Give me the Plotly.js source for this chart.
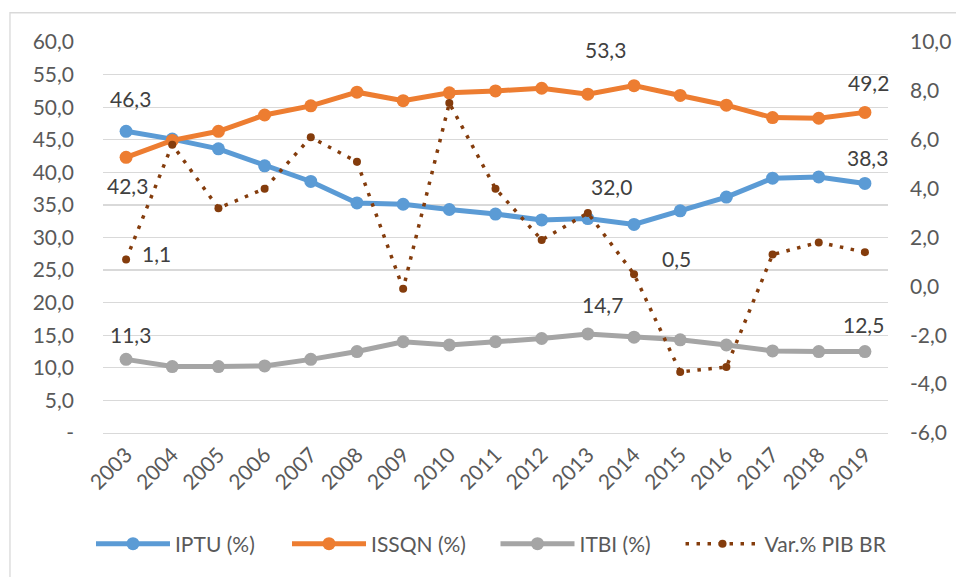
<!DOCTYPE html>
<html>
<head>
<meta charset="utf-8">
<script src="https://cdn.plot.ly/plotly-3.0.1.min.js"></script>
<style>
html,body{margin:0;padding:0;background:#fff;}
#chart{width:956px;height:577px;}
</style>
</head>
<body>
<div id="chart"></div>
<script>
var years = ['2003','2004','2005','2006','2007','2008','2009','2010','2011','2012','2013','2014','2015','2016','2017','2018','2019'];
var iptu  = [46.3,45.1,43.6,41.0,38.6,35.3,35.1,34.3,33.6,32.7,32.9,32.0,34.1,36.2,39.1,39.3,38.3];
var issqn = [42.3,44.9,46.3,48.8,50.2,52.3,51.0,52.2,52.5,52.9,52.0,53.3,51.8,50.3,48.4,48.3,49.2];
var itbi  = [11.3,10.2,10.2,10.3,11.3,12.5,14.0,13.5,14.0,14.5,15.2,14.7,14.3,13.5,12.6,12.5,12.5];
var pib   = [1.1,5.8,3.2,4.0,6.1,5.1,-0.1,7.5,4.0,1.9,3.0,0.5,-3.5,-3.3,1.3,1.8,1.4];

var leftTickVals  = [0,5,10,15,20,25,30,35,40,45,50,55,60];
var leftTickText  = ['-','5,0','10,0','15,0','20,0','25,0','30,0','35,0','40,0','45,0','50,0','55,0','60,0'];
var rightTickVals = [-6,-4,-2,0,2,4,6,8,10];
var rightTickText = ['-6,0','-4,0','-2,0','0,0','2,0','4,0','6,0','8,0','10,0'];

var seriesNames = ['IPTU (%)','ISSQN (%)','ITBI (%)','Var.% PIB BR'];

var FONT = 'Lato, "Open Sans", sans-serif';

function fmt(v){ return v.toFixed(1).replace('.', ','); }

var traces = [
  {x: years, y: iptu, name: seriesNames[0], type: 'scatter', mode: 'lines+markers', legend: 'legend',
   line: {color: '#5B9BD5', width: 5}, marker: {color: '#5B9BD5', size: 13}},
  {x: years, y: issqn, name: seriesNames[1], type: 'scatter', mode: 'lines+markers', legend: 'legend2',
   line: {color: '#ED7D31', width: 5}, marker: {color: '#ED7D31', size: 13}},
  {x: years, y: itbi, name: seriesNames[2], type: 'scatter', mode: 'lines+markers', legend: 'legend3',
   line: {color: '#A5A5A5', width: 5}, marker: {color: '#A5A5A5', size: 13}},
  {x: years, y: pib, name: seriesNames[3], type: 'scatter', mode: 'lines+markers', yaxis: 'y2', legend: 'legend4',
   line: {color: '#843C0C', width: 3.5, dash: '3.5px,7.5px'}, marker: {color: '#843C0C', size: 8}}
];

// data labels: [series array, index, yref, xshift, yshift]
var labelSpecs = [
  [iptu, 0, 'y', 4, 33], [iptu, 11, 'y', -23, 38], [iptu, 16, 'y', 3, 26],
  [issqn, 0, 'y', 1, -28], [issqn, 11, 'y', -29, 36], [issqn, 16, 'y', 4, 30],
  [itbi, 0, 'y', 4, 25], [itbi, 11, 'y', -32, 33], [itbi, 16, 'y', -1, 27],
  [pib, 0, 'y2', 30, 6], [pib, 11, 'y2', 42, 16]
];
var annotations = labelSpecs.map(function(s){
  return {x: s[1], y: s[0][s[1]], xref: 'x', yref: s[2], text: fmt(s[0][s[1]]),
    showarrow: false, xshift: s[3], yshift: s[4],
    font: {family: FONT, size: 21, color: '#404040'}};
});

function legendAt(xp){
  return {orientation: 'h', x: xp, xanchor: 'left', y: -0.284, yanchor: 'middle',
    itemwidth: 74, font: {family: FONT, size: 21, color: '#595959'}, bgcolor: 'rgba(0,0,0,0)'};
}

var layout = {
  width: 956, height: 577,
  margin: {l: 103, r: 68, t: 41.5, b: 141.5, pad: 0},
  paper_bgcolor: '#fff', plot_bgcolor: '#fff',
  font: {family: FONT, size: 21, color: '#595959'},
  showlegend: true,
  legend: legendAt(-0.0153),
  legend2: legendAt(0.2344),
  legend3: legendAt(0.5),
  legend4: legendAt(0.7357),
  xaxis: {type: 'category', tickangle: -45, showgrid: false, zeroline: false,
    showline: true, linecolor: '#D9D9D9', linewidth: 1.3, ticks: '',
    tickfont: {family: FONT, size: 21, color: '#595959'}, range: [-0.5, 16.5]},
  yaxis: {range: [0, 60], tickvals: leftTickVals, ticktext: leftTickText,
    showgrid: true, gridcolor: '#D9D9D9', gridwidth: 1.3, zeroline: false, showline: false,
    ticks: '', ticklabelstandoff: 28, tickfont: {family: FONT, size: 21, color: '#595959'}},
  yaxis2: {range: [-6, 10], overlaying: 'y', side: 'right', tickvals: rightTickVals, ticktext: rightTickText,
    showgrid: false, zeroline: false, showline: false, ticks: '', ticklabelstandoff: 21,
    tickfont: {family: FONT, size: 21, color: '#595959'}},
  annotations: annotations,
  shapes: [{type: 'rect', xref: 'paper', yref: 'paper', x0: -0.1185, x1: 1.2, y0: -0.5, y1: 1.0748,
    line: {color: '#D9D9D9', width: 1.3}, fillcolor: 'rgba(0,0,0,0)', layer: 'below'}]
};

Plotly.newPlot('chart', traces, layout, {displayModeBar: false, staticPlot: true});
</script>
</body>
</html>
